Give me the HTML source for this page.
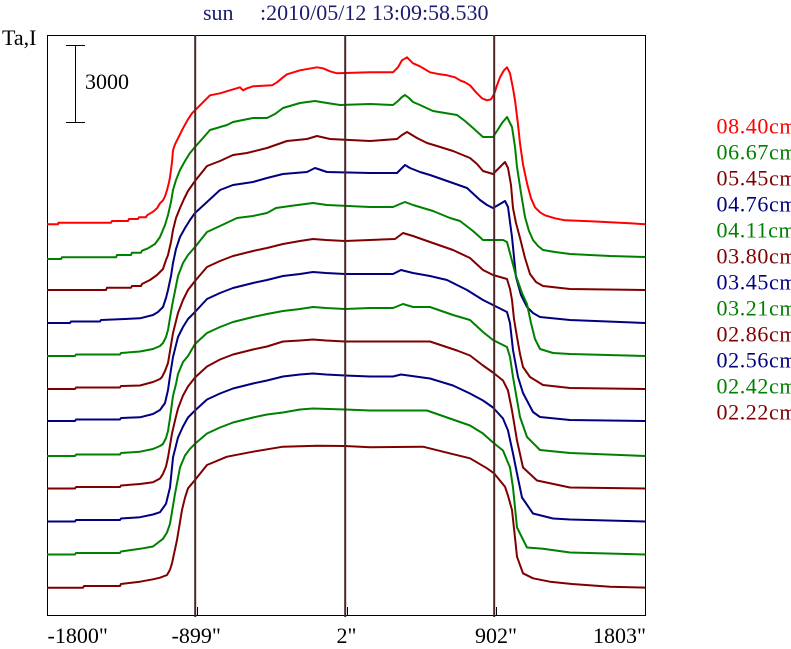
<!DOCTYPE html>
<html>
<head>
<meta charset="utf-8">
<style>
  html, body { margin: 0; padding: 0; background: #ffffff; }
  svg { display: block; }
  text { font-family: "Liberation Serif", "DejaVu Serif", serif; }
</style>
</head>
<body>
<svg xmlns="http://www.w3.org/2000/svg" width="791" height="649" viewBox="0 0 791 649">
  <rect x="0" y="0" width="791" height="649" fill="#ffffff"/>
  <defs>
    <clipPath id="pc"><rect x="47" y="35" width="598.5" height="580"/></clipPath>
  </defs>

  <!-- title -->
  <text x="203" y="20" font-size="22" fill="#1c1c6e">sun</text>
  <text x="260" y="20" font-size="22" fill="#1c1c6e">:2010/05/12 13:09:58.530</text>

  <!-- y label and scale bar -->
  <text x="2" y="45" font-size="22" fill="#000">Ta,I</text>
  <g shape-rendering="crispEdges">
  <line x1="75.5" y1="45" x2="75.5" y2="122" stroke="#000" stroke-width="1"/>
  <line x1="66" y1="45.5" x2="85" y2="45.5" stroke="#000" stroke-width="1"/>
  <line x1="66" y1="122.5" x2="85" y2="122.5" stroke="#000" stroke-width="1"/>
  </g>
  <text x="85" y="89" font-size="22" fill="#000">3000</text>

  <!-- plot box -->
  <rect x="47.5" y="35.5" width="598" height="580" fill="none" stroke="#000" stroke-width="1" shape-rendering="crispEdges"/>

  <g clip-path="url(#pc)" fill="none" stroke-width="2" stroke-linejoin="round">
    <!-- 1: 08.40 red -->
    <polyline transform="translate(0,224.3)" stroke="#ff0000" points="47,0 58,0 58.5,-1.6 111,-1.6 112,-3.3 128,-3.3 129,-5.3 138,-5.3 139,-7 146,-7 147,-9 153,-12.6 157,-16 160,-21 163,-24 165,-28 167,-34 169,-42 170,-47 172,-62 173,-74 175,-80 178,-86 183,-96 188,-105 192,-111 195,-114 202,-121 206,-125 210,-129 220,-131 230,-134 240,-137 243,-134 247,-136 253,-138 272,-139 277,-142 283,-147 287,-150 300,-154 317,-157 323,-156 330,-153 337,-151 370,-152 393,-152 398,-157 402,-164 407,-167 410,-164 413,-161 420,-158 430,-152 440,-150 447,-149 455,-147 460,-144 465,-142 470,-139 476,-132 482,-126 487,-124 491,-125 494,-130 497,-139 500,-147 504,-154 507,-157 510,-151 513,-136 515,-124 518,-100 520,-81 523,-60 527,-41 531,-26 535,-17 540,-12 545,-9 555,-6 565,-4 590,-3 630,-1 646,0"/>
    <!-- 2: 06.67 green -->
    <polyline transform="translate(0,257)" stroke="#008000" points="47,2 61,2 62,0.3 116,0.3 117,-2 131,-2 132,-4.3 141,-4.3 142,-6.3 148,-8.7 155,-13 160,-20 165,-32 168,-42 171,-55 173,-67 176,-77 180,-87 185,-96 190,-104 195,-110 203,-119 210,-127 227,-132 233,-135 253,-139 267,-139 275,-143 283,-149 300,-154 315,-156 327,-154 340,-152 370,-153 393,-152 398,-156 402,-160 405,-162 409,-159 413,-155 420,-152 433,-146 457,-142 465,-136 473,-129 483,-120 493,-120 497,-126 502,-134 507,-140 512,-130 515,-110 517,-90 521,-64 525,-40 529,-26 533,-17 538,-11 543,-7 555,-5 570,-3 610,-1 646,0"/>
    <!-- 3: 05.45 dark red -->
    <polyline transform="translate(0,290)" stroke="#800000" points="47,0 106,0 107,-2.3 131,-2.3 132,-4 141,-4 142,-6 150,-10 157,-15 163,-21 166,-30 168,-35 171,-48 173,-60 176,-72 180,-82 184,-91 188,-99 195,-109 207,-124 220,-129 233,-135 247,-137 267,-142 287,-149 307,-151 317,-154 330,-151 370,-149 397,-151 402,-155 407,-158 412,-155 417,-152 427,-147 437,-144 453,-139 470,-132 477,-126 483,-119 493,-116 500,-123 505,-128 508,-122 511,-105 513,-82 516,-67 520,-52 525,-32 530,-16 536,-8 543,-4 570,-1 646,0"/>
    <!-- 4: 04.76 blue -->
    <polyline transform="translate(0,323)" stroke="#000080" points="47,0 70,0 71,-1.5 100,-1.5 101,-3 140,-4.7 153,-8 158,-11 163,-16 166,-25 168,-33 171,-47 173,-60 176,-74 180,-86 185,-95 190,-103 195,-110 207,-121 220,-133 233,-138 253,-141 267,-145 283,-149 307,-151 315,-155 327,-151 370,-150 397,-150 401,-154 405,-158 410,-155 420,-151 430,-148 450,-141 467,-135 480,-123 487,-118 493,-115 500,-119 505,-122 508,-116 510,-101 512,-86 516,-46 521,-28 527,-16 533,-10 540,-6 570,-3 646,0"/>
    <!-- 5: 04.11 green -->
    <polyline transform="translate(0,356)" stroke="#008000" points="47,0 75,0 76,-1.5 120,-1.5 121,-3 140,-4.5 153,-7 160,-10 163,-13 166,-19 168,-26 170,-38 172,-50 174,-60 176,-70 178,-80 183,-93 188,-101 195,-109 207,-124 220,-130 237,-138 253,-140 267,-143 276,-148 290,-150 313,-153 327,-151 370,-149 393,-149 400,-152 405,-154 413,-151 433,-145 450,-138 460,-135 473,-125 483,-116 503,-116 507,-114 511,-99 516,-80 522,-63 527,-52 531,-33 535,-17 540,-7 553,-3 570,-2 646,0"/>
    <!-- 6: 03.80 dark red -->
    <polyline transform="translate(0,389)" stroke="#800000" points="47,0 75,0 76,-1.5 120,-1.5 121,-3 140,-3.5 153,-7 160,-10 162,-12 165,-18 168,-26 170,-38 173,-56 176,-68 178,-76 183,-89 188,-99 195,-108 207,-122 220,-128 233,-133 253,-138 267,-141 283,-145 300,-148 313,-150 326,-149 345,-148 370,-149 395,-150 403,-156 413,-153 430,-147 453,-139 470,-131 483,-119 493,-114 507,-110 510,-100 512,-89 514,-70 517,-52 520,-35 523,-22 530,-12 543,-4 570,-1 646,0"/>
    <!-- 7: 03.45 blue -->
    <polyline transform="translate(0,421)" stroke="#000080" points="47,0 75,0 76,-1.5 120,-1.5 121,-3 140,-3.7 153,-7 160,-11 165,-18 168,-31 170,-45 173,-64 176,-76 178,-84 183,-94 188,-102 195,-109 207,-122 220,-128 233,-133 253,-138 267,-141 283,-145 300,-147 313,-149 326,-148 345,-147 370,-147 393,-147 401,-151 413,-148 430,-145 447,-141 467,-131 483,-121 497,-114 507,-109 510,-98 513,-71 518,-44 523,-28 533,-9 540,-4 570,-1 646,0"/>
    <!-- 8: 03.21 green -->
    <polyline transform="translate(0,456)" stroke="#008000" points="47,0 75,0 76,-1.5 120,-1.5 121,-3 140,-4.3 153,-7 160,-10 163,-12 166,-18 168,-25 170,-38 173,-60 176,-72 178,-82 183,-94 188,-100 195,-112 207,-123 220,-129 233,-134 253,-139 267,-142 283,-145 300,-147 313,-149 326,-148 345,-147 370,-148 393,-148 403,-152 413,-149 430,-149 453,-141 470,-136 483,-124 493,-116 507,-109 510,-99 513,-79 520,-39 527,-19 540,-6 570,-3 646,0"/>
    <!-- 9: 02.86 dark red -->
    <polyline transform="translate(0,488.5)" stroke="#800000" points="47,0 75,0 76,-1.5 120,-1.5 121,-3 140,-4.5 153,-6.3 160,-10 163,-14.7 166,-22 168,-31 172,-55 175,-68 178,-80 183,-93 188,-102 195,-111 207,-122 220,-129 233,-134 253,-139 267,-142 283,-147 300,-148 313,-149 326,-148 345,-147 370,-147 430,-147 457,-138 470,-133 483,-123 493,-116 503,-108 508,-98 512,-78 517,-48 523,-21 537,-8 570,-1 646,0"/>
    <!-- 10: 02.56 blue -->
    <polyline transform="translate(0,521.5)" stroke="#000080" points="47,0 75,0 76,-1.5 120,-1.5 121,-3 140,-4.3 153,-7 160,-9.3 166,-17.7 170,-34 173,-64 176,-76 178,-84 183,-95 188,-104 195,-111 207,-122 220,-128 233,-133 253,-138 267,-141 283,-145 300,-147 313,-148 326,-147 345,-146 370,-145 393,-145 401,-147 430,-143 453,-136 470,-128 483,-121 493,-114 503,-103 508,-91 513,-68 517,-48 522,-24 533,-8 553,-3 570,-2 646,0"/>
    <!-- 11: 02.42 green -->
    <polyline transform="translate(0,554.5)" stroke="#008000" points="47,0 75,0 76,-1.5 120,-1.5 121,-3 140,-5.7 153,-8 163,-15.7 167,-22 170,-30.7 175,-60.7 180,-87 185,-99 190,-105.7 195,-110.7 207,-121 220,-127 233,-132 253,-137 267,-140 283,-142 300,-145 313,-146 345,-145 370,-144 427,-144 447,-137 470,-129 483,-121 493,-112 503,-104 510,-87 513,-67 517,-27 527,-7 543,-5.7 570,-2 646,0"/>
    <!-- 12: 02.22 dark red -->
    <polyline transform="translate(0,587.7)" stroke="#800000" points="47,0 83,0 84,-1.7 120,-1.7 121,-3.7 140,-6 153,-8.4 160,-10 167,-12.7 170,-18 172,-24.4 177,-47.7 182,-77.7 185,-90 188,-99.4 195,-107.7 207,-122.7 227,-131 253,-136 283,-141 317,-142 345,-141.7 370,-140.4 423,-141 447,-135 470,-129.4 487,-119.4 494,-114.4 505,-101 508,-92 512,-77.7 515,-50 517,-31 523,-14.4 533,-9.4 550,-6 572,-3.7 610,-1 646,0"/>
  </g>

  <!-- vertical reference lines -->
  <line x1="195.2" y1="35" x2="195.2" y2="617" stroke="#4d2626" stroke-width="2"/>
  <line x1="345.2" y1="35" x2="345.2" y2="617" stroke="#4d2626" stroke-width="2"/>
  <line x1="494.2" y1="35" x2="494.2" y2="617" stroke="#4d2626" stroke-width="2"/>

  <!-- bottom ticks -->
  <g shape-rendering="crispEdges">
  <line x1="197.5" y1="607" x2="197.5" y2="615" stroke="#000" stroke-width="1"/>
  <line x1="347.5" y1="607" x2="347.5" y2="615" stroke="#000" stroke-width="1"/>
  <line x1="496.5" y1="607" x2="496.5" y2="615" stroke="#000" stroke-width="1"/>
  </g>

  <!-- x labels -->
  <text x="47.5" y="643" font-size="22" fill="#000">-1800"</text>
  <text x="171.5" y="643" font-size="22" fill="#000">-899"</text>
  <text x="336.5" y="643" font-size="22" fill="#000">2"</text>
  <text x="475" y="643" font-size="22" fill="#000">902"</text>
  <text x="593" y="643" font-size="22" fill="#000">1803"</text>

  <!-- legend -->
  <g font-size="22" letter-spacing="0.6">
    <text x="716.5" y="133.3" fill="#ff0000">08.40cm</text>
    <text x="716.5" y="159.3" fill="#008000">06.67cm</text>
    <text x="716.5" y="185.3" fill="#800000">05.45cm</text>
    <text x="716.5" y="211.3" fill="#000080">04.76cm</text>
    <text x="716.5" y="237.3" fill="#008000">04.11cm</text>
    <text x="716.5" y="263.3" fill="#800000">03.80cm</text>
    <text x="716.5" y="289.3" fill="#000080">03.45cm</text>
    <text x="716.5" y="315.3" fill="#008000">03.21cm</text>
    <text x="716.5" y="341.3" fill="#800000">02.86cm</text>
    <text x="716.5" y="367.3" fill="#000080">02.56cm</text>
    <text x="716.5" y="393.3" fill="#008000">02.42cm</text>
    <text x="716.5" y="419.3" fill="#800000">02.22cm</text>
  </g>
</svg>
</body>
</html>
